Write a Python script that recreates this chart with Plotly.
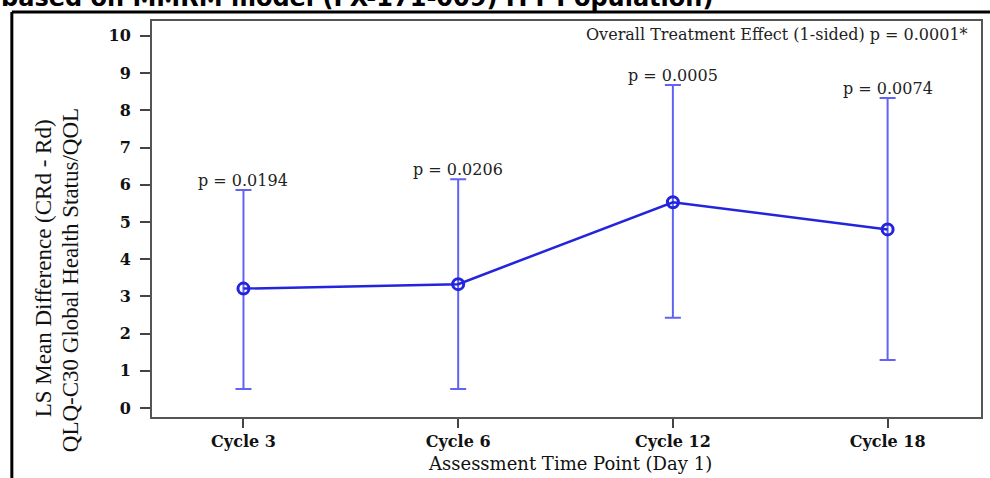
import plotly.graph_objects as go

# ---- data ----
cycles = ["Cycle 3", "Cycle 6", "Cycle 12", "Cycle 18"]
ls_mean_diff = [3.21, 3.33, 5.53, 4.80]
ci_lower = [0.51, 0.51, 2.43, 1.29]
ci_upper = [5.86, 6.15, 8.68, 8.33]
p_values = ["p = 0.0194", "p = 0.0206", "p = 0.0005", "p = 0.0074"]
y_ticks = [0, 1, 2, 3, 4, 5, 6, 7, 8, 9, 10]
overall_text = "Overall Treatment Effect (1-sided) p = 0.0001*"
title_text = "based on MMRM model (FX-171-009) ITT Population)"
x_title = "Assessment Time Point (Day 1)"
y_title_1 = "LS Mean Difference (CRd - Rd)"
y_title_2 = "QLQ-C30 Global Health Status/QOL"

W, H = 990, 478
L, R, T, B = 152, 7, 21, 61
PW, PH = W - L - R, H - T - B


def px_x(px):
    return (px - L) / PW


def px_y(py):
    return 1 - (py - T) / PH


xi = list(range(len(cycles)))
err_plus = [u - m for u, m in zip(ci_upper, ls_mean_diff)]
err_minus = [m - l for m, l in zip(ls_mean_diff, ci_lower)]

LINE_BLUE = "#2424dc"
ERR_BLUE = "#6262f4"
SERIF = "DejaVu Serif"

fig = go.Figure()
fig.add_trace(go.Scatter(
    x=xi, y=ls_mean_diff, mode="lines+markers",
    line=dict(color=LINE_BLUE, width=2.5),
    marker=dict(symbol="circle-open", size=11, color=LINE_BLUE,
                line=dict(width=3, color=LINE_BLUE)),
    error_y=dict(type="data", symmetric=False, array=err_plus,
                 arrayminus=err_minus, color=ERR_BLUE, thickness=2, width=8),
    showlegend=False,
))

annotations = []
for i, (u, txt) in enumerate(zip(ci_upper, p_values)):
    annotations.append(dict(x=i, y=u, xref="x", yref="y", text=txt,
                            showarrow=False, yanchor="bottom", yshift=-2,
                            font=dict(family=SERIF, size=16, color="#222")))

annotations.append(dict(x=px_x(972), y=px_y(34), xref="paper", yref="paper",
                        text=overall_text, showarrow=False, xanchor="right",
                        yanchor="middle",
                        font=dict(family=SERIF, size=16, color="#222")))
annotations.append(dict(x=px_x(571.5), y=px_y(463), xref="paper", yref="paper",
                        text=x_title, showarrow=False, xanchor="center",
                        yanchor="middle",
                        font=dict(family=SERIF, size=18, color="#111")))
annotations.append(dict(x=px_x(43), y=px_y(268), xref="paper", yref="paper",
                        text=y_title_1, showarrow=False, textangle=-90,
                        xanchor="center", yanchor="middle",
                        font=dict(family="Liberation Serif", size=23, color="#111")))
annotations.append(dict(x=px_x(70), y=px_y(280), xref="paper", yref="paper",
                        text=y_title_2, showarrow=False, textangle=-90,
                        xanchor="center", yanchor="middle",
                        font=dict(family="Liberation Serif", size=23, color="#111")))
annotations.append(dict(x=px_x(-1), y=px_y(14), xref="paper", yref="paper",
                        text="<b>" + title_text + "</b>", showarrow=False,
                        xanchor="left", yanchor="bottom",
                        font=dict(family="DejaVu Sans", size=24, color="#000")))

shapes = [
    dict(type="line", xref="paper", yref="paper", x0=px_x(11.5), x1=px_x(1000),
         y0=px_y(12), y1=px_y(12), line=dict(color="#000", width=3)),
    dict(type="line", xref="paper", yref="paper", x0=px_x(11.5), x1=px_x(11.5),
         y0=px_y(12), y1=px_y(490), line=dict(color="#000", width=3)),
]

fig.update_layout(
    width=W, height=H,
    margin=dict(l=L, r=R, t=T, b=B, pad=0),
    paper_bgcolor="white", plot_bgcolor="white",
    annotations=annotations, shapes=shapes,
    showlegend=False,
)
fig.update_xaxes(
    range=[-0.426, 3.435], tickmode="array", tickvals=xi, ticktext=cycles,
    showline=True, linecolor="#555", linewidth=2, mirror=True,
    ticks="outside", ticklen=9, tickwidth=1.5, tickcolor="#444",
    showgrid=False, zeroline=False,
    tickfont=dict(family=SERIF, size=16, color="#111", weight="bold"),
)
fig.update_yaxes(
    range=[-0.24, 10.4], tickmode="array", tickvals=y_ticks,
    showline=True, linecolor="#555", linewidth=2, mirror=True,
    ticks="outside", ticklen=10, tickwidth=1.5, tickcolor="#444",
    showgrid=False, zeroline=False, ticklabelstandoff=6,
    tickfont=dict(family=SERIF, size=16, color="#111", weight="bold"),
)

fig.write_html("out.html")
